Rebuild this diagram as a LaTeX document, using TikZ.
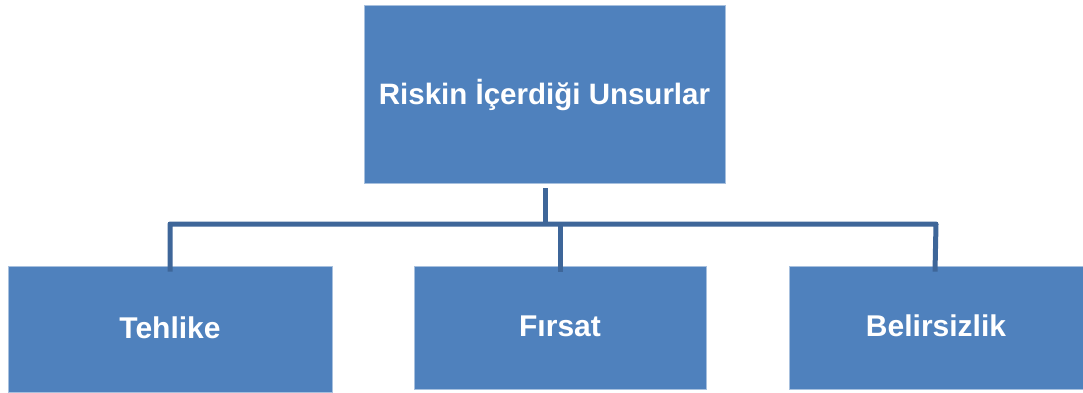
\documentclass[tikz,border=0pt]{standalone}
\usepackage{fontspec}
\setmainfont{Liberation Sans}
\definecolor{boxblue}{HTML}{4F81BD}
\definecolor{boxedge}{HTML}{A7C0DE}
\definecolor{linkblue}{HTML}{3E6699}
\begin{document}
\begin{tikzpicture}[x=1pt,y=-1pt,
  unit/.style={draw=boxedge, line width=0.8pt, fill=boxblue, text=white,
    font=\bfseries\fontsize{30}{34}\selectfont, inner sep=0pt,
    text height=22pt, text depth=4pt},
  link/.style={draw=linkblue, line width=5pt}]
  \useasboundingbox (0,0) rectangle (1083,392);
  % top node
  \node[unit, minimum width=361pt, minimum height=178pt,
    font=\bfseries\fontsize{29.5}{34}\selectfont,
    text height=24pt, text depth=3pt] (top) at (544.5,94) {Riskin İçerdiği Unsurlar};
  % child nodes
  \node[unit, minimum width=324pt, minimum height=126pt] (c1) at (170,329) {Tehlike};
  \node[unit, minimum width=292pt, minimum height=123pt] (c2) at (560,327.5) {Fırsat};
  \node[unit, minimum width=294pt, minimum height=123pt] (c3) at (936,327.5) {Belirsizlik};
  % connector junctions
  \coordinate (bus) at (545,224);
  \draw[link] ([yshift=-5pt]bus |- top.south) -- (bus);
  \draw[link, line join=round] ([yshift=-6pt]c1.north) |- (bus -| c3.north)
    -- ([xshift=-1pt,yshift=-6pt]c3.north);
  \draw[link] (bus -| c2.north) -- ([yshift=-6pt]c2.north);
\end{tikzpicture}
\end{document}
